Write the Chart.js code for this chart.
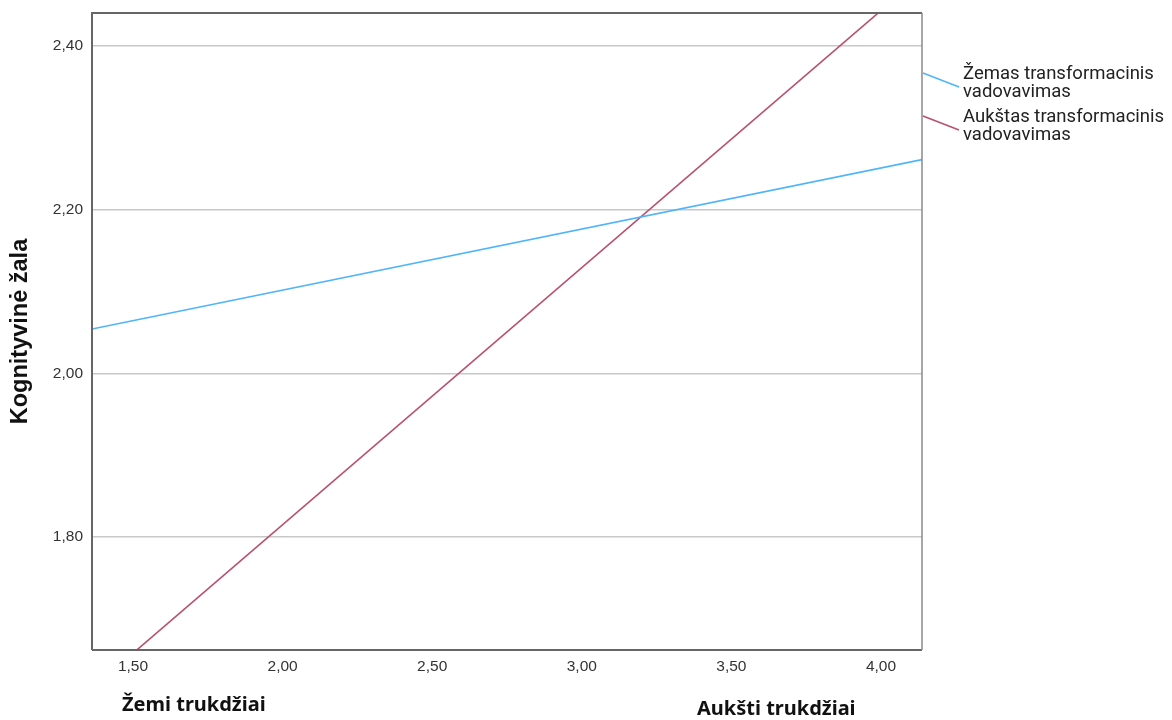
<!DOCTYPE html>
<html>
<head>
<meta charset="utf-8">
<script src="https://cdn.jsdelivr.net/npm/chart.js@4"></script>
<style>
  html, body { margin: 0; padding: 0; background: #fff; }
  #wrap { width: 1172px; height: 720px; }
</style>
</head>
<body>
<div id="wrap"><canvas id="c" width="1172" height="720"></canvas></div>
<script>
// Axis ranges and tick positions
const xRange = [1.363, 4.137];
const yRange = [1.662, 2.44];
const xTicks = [1.5, 2.0, 2.5, 3.0, 3.5, 4.0];
const yTicks = [1.8, 2.0, 2.2, 2.4];

// Simple slopes: line endpoints at the edges of the x range
const lineX = [1.363, 4.137];
const lowLeadership = [2.054, 2.261];
const highLeadership = [1.615, 2.486];

const seriesNames = [
  ['Žemas transformacinis', 'vadovavimas'],
  ['Aukštas transformacinis', 'vadovavimas']
];
const seriesColors = ['#4fb5fa', '#b9506f'];
const yTitle = 'Kognityvinė žala';
const xEndLabels = ['Žemi trukdžiai', 'Aukšti trukdžiai'];

const fmt = v => v.toFixed(2).replace('.', ',');

const frame = {
  id: 'frame',
  afterDatasetsDraw(chart) {
    const { ctx, chartArea: a } = chart;
    ctx.save();
    ctx.lineWidth = 2;
    ctx.strokeStyle = '#666';
    ctx.beginPath();
    ctx.moveTo(a.left, a.bottom);
    ctx.lineTo(a.left, a.top);
    ctx.lineTo(a.right, a.top);
    ctx.stroke();
    ctx.beginPath();
    ctx.moveTo(a.left, a.bottom);
    ctx.lineTo(a.right, a.bottom);
    ctx.stroke();
    ctx.strokeStyle = '#8a8a8a';
    ctx.lineWidth = 1.5;
    ctx.beginPath();
    ctx.moveTo(a.right, a.top);
    ctx.lineTo(a.right, a.bottom);
    ctx.stroke();
    ctx.restore();
  },
  afterDraw(chart) {
    const { ctx, chartArea: a } = chart;
    ctx.save();
    // legend with slanted keys
    chart.data.datasets.forEach((ds, i) => {
      const y0 = 74 + i * 43;
      ctx.strokeStyle = ds.borderColor;
      ctx.lineWidth = 1.5;
      ctx.beginPath();
      ctx.moveTo(a.right + 1, y0 - 1);
      ctx.lineTo(a.right + 37, y0 + 13);
      ctx.stroke();
      ctx.fillStyle = '#222';
      ctx.font = '18.5px Roboto';
      ctx.textBaseline = 'middle';
      ctx.textAlign = 'left';
      seriesNames[i].forEach((t, k) => ctx.fillText(t, a.right + 41, y0 + k * 18));
    });
    // end labels under the x axis
    ctx.fillStyle = '#111';
    ctx.font = 'bold 20px "Noto Sans"';
    ctx.textBaseline = 'middle';
    ctx.textAlign = 'left';
    ctx.fillText(xEndLabels[0], a.left + 30, 705);
    ctx.fillText(xEndLabels[1], a.left + 605, 709);
    ctx.restore();
  }
};

new Chart(document.getElementById('c'), {
  type: 'line',
  data: {
    datasets: [
      {
        label: seriesNames[0].join(' '),
        data: lineX.map((x, i) => ({ x, y: lowLeadership[i] })),
        borderColor: seriesColors[0],
        borderWidth: 1.6,
        pointRadius: 0,
        fill: false
      },
      {
        label: seriesNames[1].join(' '),
        data: lineX.map((x, i) => ({ x, y: highLeadership[i] })),
        borderColor: seriesColors[1],
        borderWidth: 1.6,
        pointRadius: 0,
        fill: false
      }
    ]
  },
  options: {
    responsive: false,
    animation: false,
    layout: { padding: { left: 0, right: 250, top: 13, bottom: 0 } },
    plugins: { legend: { display: false }, tooltip: { enabled: false } },
    scales: {
      x: {
        type: 'linear',
        min: xRange[0],
        max: xRange[1],
        afterBuildTicks: ax => { ax.ticks = xTicks.map(v => ({ value: v })); },
        afterFit: ax => { ax.height = 70; ax.paddingLeft = 0; ax.paddingRight = 0; },
        grid: { display: false, drawTicks: false },
        border: { display: false },
        ticks: {
          callback: v => fmt(v),
          font: { family: '"Liberation Sans"', size: 15.5 },
          color: '#333',
          padding: 7,
          maxRotation: 0
        }
      },
      y: {
        type: 'linear',
        min: yRange[0],
        max: yRange[1],
        afterBuildTicks: ax => { ax.ticks = yTicks.map(v => ({ value: v })); },
        afterFit: ax => { ax.width = 92; ax.paddingTop = 0; ax.paddingBottom = 0; },
        grid: { color: '#c8c8c8', lineWidth: 1.5, drawTicks: false },
        border: { display: false },
        title: {
          display: true,
          text: yTitle,
          font: { family: '"Liberation Sans"', size: 23.5, weight: 'bold' },
          color: '#111',
          padding: { top: 6, bottom: 0 }
        },
        ticks: {
          callback: v => fmt(v),
          font: { family: '"Liberation Sans"', size: 15.5 },
          color: '#333',
          padding: 9
        }
      }
    }
  },
  plugins: [frame]
});
</script>
</body>
</html>
